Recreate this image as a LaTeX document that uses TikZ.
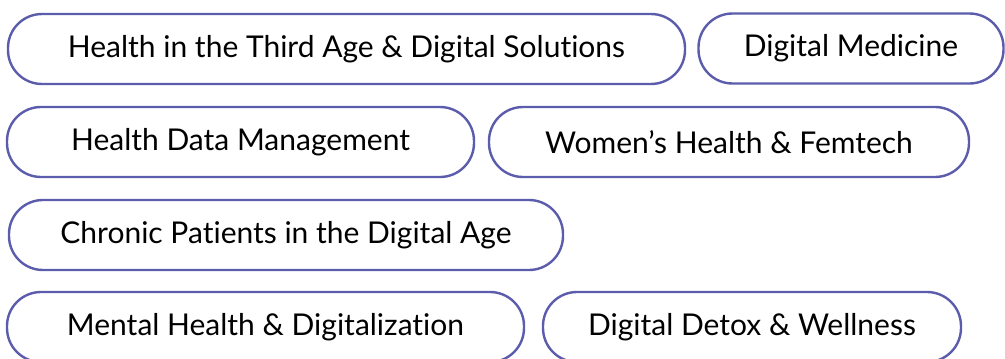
\documentclass[tikz,border=0pt]{standalone}
\usepackage{fontspec}
\setmainfont{Lato}[Ligatures={NoCommon,NoRare,NoDiscretionary}]
\definecolor{pillborder}{HTML}{5C5CAD}
\begin{document}
\begin{tikzpicture}[x=1pt,y=-1pt,
  pill/.style={draw=pillborder, line width=2.4pt, rounded corners=34pt,
    minimum height=70pt, inner sep=0pt, text=black,
    font=\fontsize{30}{33}\selectfont}]
\useasboundingbox (0,0) rectangle (1005,359);
\node[pill, minimum width=677pt] (n1) at (346.5,49) {Health in the Third Age \& Digital Solutions};
\node[pill, minimum width=305pt] (n2) at (851,48.5) {Digital Medicine};
\node[pill, minimum width=467pt] (n3) at (240.5,142) {Health Data Management};
\node[pill, minimum width=480pt] (n4) at (729,142) {Women\symbol{"27}s Health \& Femtech};
\node[pill, minimum width=554pt] (n5) at (286,235) {Chronic Patients in the Digital Age};
\node[pill, minimum width=517pt] (n6) at (265.5,327) {Mental Health \& Digitalization};
\node[pill, minimum width=418pt] (n7) at (752,327) {Digital Detox \& Wellness};
\end{tikzpicture}
\end{document}
